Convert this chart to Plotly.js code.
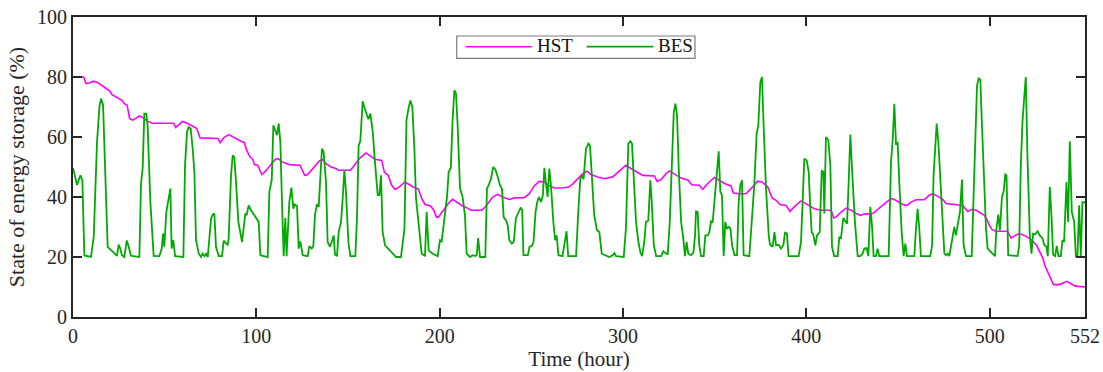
<!DOCTYPE html>
<html>
<head>
<meta charset="utf-8">
<script src="https://cdn.plot.ly/plotly-3.0.1.min.js"></script>
<style>html,body{margin:0;padding:0;background:#fff;}#chart{width:1103px;height:372px;}</style>
</head>
<body>
<div id="chart"></div>
<script>
// HST state of energy (vertices)
const hstHours = [0,5.8,7.1,8.9,11.3,13.5,16.2,18.9,20.2,21.3,23.5,25.3,26.7,28,29.5,30.9,32.6,34.4,36.2,38.6,40.7,43.5,54.9,56,57.7,59.8,62.6,65.3,67.5,69.3,79,80.2,82.6,85,88,91.6,93.5,94.7,96.6,98,99,100.7,103,105,108,110.4,111.9,114,118,123.8,125.3,126.4,128,131.7,134.4,136.2,138,140.7,143.5,144.8,151.3,153.5,156.2,159.8,162.2,164.7,168.4,169.8,172,173.8,175.7,178,181.1,185.3,188.4,190.2,192,195,196.8,198.2,199.3,201.7,204.4,207,209.8,212.5,215.2,217.1,223,225.3,228.9,231.7,234.3,238,240.7,246.2,248.9,251.6,254.3,257.1,259.8,262.5,268,270.3,272.5,275.2,278,280.4,282.5,286.2,289.8,294.4,298,301.6,304.3,308,310.7,317.1,318.6,320.8,323.5,325.3,328,331.7,335.6,337.5,341.6,343.5,346.2,349.8,352.5,355.3,358.9,360.2,363.4,367,369.8,373.4,375.8,378.9,381.3,383.5,385.6,388.9,391.1,393.4,397.1,400.7,404.4,408,413.5,415,416.2,418.9,421.7,424.4,427.1,429.4,431.6,436.2,438.9,442.5,446.2,448.9,452.5,454.9,457.1,459.8,464.4,467.1,468.9,471.6,474.4,476.2,479.8,485.3,488,490.4,492.6,495.3,497.1,498.4,499.8,501.3,503.5,509.8,511.7,514,516.1,518.9,522.5,525.6,527.5,528.9,530.2,531.7,532.9,534.8,538.1,540.3,542.1,544.4,546.8,552];
const hstValues = [80,80,77.8,78,78.6,78.1,77,75.9,75.2,74.1,73.3,72.8,72.2,71.1,70.6,66.1,65.6,66.3,67,66.3,65.2,64.6,64.6,63.2,64.1,65.2,64.5,63.6,62.8,59.7,59.5,58.1,60,60.8,59.7,58.6,58.1,55.6,53.3,52.6,50.8,50.6,47.5,48.6,50.8,52.6,52.8,51.7,50.8,50.6,48.6,47.2,47.5,50,52,52.5,51.1,50,49.5,48.9,48.9,50.6,52.8,54.7,53.7,52.6,52.2,48.3,47.2,43.9,42.5,43.4,45,43.4,42.6,39.5,37.5,37,35.6,33.3,33.3,35.5,37.6,39.2,38.1,37,36.3,35.6,35.6,37,40,40.9,40,39.2,39.7,39.8,41.1,43.7,45.2,45,43.7,43,43.1,43.3,44.3,45.9,47.8,48.6,47.5,46.7,46.1,46.7,48.6,50.6,49.5,48.1,47.2,47,45.2,45.8,47.8,48.7,47.8,46.3,45.6,44.1,43.9,42.6,44.5,46.5,45.6,44.5,43.7,41.3,41.1,41.1,42.8,45.3,45,43.4,39.7,38.9,37.5,37.2,35.2,36.7,38.7,37.5,36.1,35.6,35.6,33,33.3,35,36.3,35.6,34.5,33.9,34.3,34.5,35.8,37.8,39.5,38.9,37.5,37.2,38.3,39.1,39.1,40.6,41.1,40.3,39.2,37.8,37.5,37.2,35.2,35.9,35.6,34.7,33.9,32.6,30.6,29.1,28.6,28.6,26.3,27.2,27.8,27.2,25.9,23.9,21.5,19.7,17,15,13.9,10.8,10.8,11.3,11.9,11.1,10.3,10];

// BES state of energy (vertices)
const besHours = [0,2.2,4,5.1,6.2,9.8,11.3,13.1,14.4,15.3,16.4,17.5,18.9,24,24.9,25.8,26.7,28,29.3,30.4,31.6,36.2,37.1,38,38.9,40,40.7,42.2,44,47.1,48.4,49.1,49.8,50.9,53.1,53.8,54.7,55.7,60.2,61.1,62.2,63.1,64.2,65.3,66.2,67.1,68.6,69.8,70.7,71.7,72.6,73.5,75.3,76.2,77.1,78,79.5,81.3,82.2,83.5,84.4,84.9,86.2,87.1,88,88.9,90.2,92.2,94,94.7,95.8,97.1,98.9,101.3,102.2,106.2,107.1,108.4,109.3,110.4,111.3,112.2,113.1,114,114.9,115.8,116.5,118,119.1,120.2,120.9,122.2,123.1,124,125.3,128,128.9,130.2,131.1,132,133.1,134,134.9,135.8,136.7,138,138.9,140.2,141.1,142.2,142.9,144,144.9,146.2,147.1,148,148.9,150.2,151.3,154,154.9,155.8,156.7,158,158.9,160.2,161.1,162.2,163.5,164.7,166.2,167.1,168,168.9,170.2,176.2,178.9,180.8,181.9,183,184,185.1,186.2,187.1,189,190.2,192,192.9,194,196.2,198.9,200.2,201.1,203,204,204.9,206.1,207,208,208.9,209.8,211.1,212.5,213.8,214.7,216.5,218,219.4,220.2,221,222,224.9,225.8,227.1,228,229.2,230.4,231.7,233,234,234.9,236.2,237.1,238,239.3,240.4,241.6,243.1,244.2,245,245.7,248.1,249,250.3,251.2,252.3,253.2,254.1,255.3,256.3,257.1,258,258.9,259.8,260.7,262,263,263.8,264.8,267,268.3,269.2,270.1,274.4,275.6,276.7,277.6,278.5,279.8,281.1,282,282.9,284.3,285.8,287.1,288.4,290.2,292.5,294.4,295.3,296.2,300.4,301.6,302.9,304,304.9,305.8,307.1,308.4,309.5,310.4,311.6,312.5,313.8,314.9,315.7,316.8,318.1,320.8,322,323.2,324.4,325.5,326.6,327.7,328.6,329.5,330.4,331.7,332.8,333.8,334.7,335.6,337.1,338.4,339.3,339.8,340.7,341.6,342.6,344,344.9,346.2,347.1,348,348.9,349.8,351.1,352.2,353.1,354,354.9,355.8,356.7,357.7,358.6,359.5,360.8,362.2,363.1,364,364.9,365.8,368.9,370.4,371.6,372.9,373.8,374.9,375.8,376.7,378,379.5,380.2,381.6,382.6,383.5,384.9,386.2,387.5,388.4,389.4,390.3,395.8,397.1,398,398.9,400.2,401.3,402,402.9,403.8,404.9,405.8,407.3,408.4,409.3,409.8,410.7,412,413.1,414,415.2,417.1,418,418.9,420.2,421.3,422.2,423.1,424,425.3,426.5,428,429.4,430.7,431.6,432.9,433.8,434.9,435.8,436.7,438,438.9,439.8,444.9,446.2,447.1,448,448.9,449.8,450.7,452,453.1,454,454.9,458.9,459.8,460.7,461.6,462.5,467.6,468.6,469.4,470.4,471.1,472,473.1,474.4,475.3,476.2,477.1,478,479.5,480.7,481.6,482.5,483.8,484.9,485.8,487.1,490.2,491.3,492.2,493.1,494,494.9,495.8,497.1,498,498.9,500.3,501.6,502.9,503.7,504.7,505.6,506.7,507.6,508.5,509.2,510.1,515.2,516.1,517,517.9,518.8,519.7,520.6,521.9,522.8,523.7,524.8,526.1,527.3,528.8,529.7,531,531.7,532.8,533.7,534.6,535.7,536.6,537.5,538.8,539.7,540.6,541.9,542.8,543.7,544.8,546.1,547,547.9,548.8,549.7,550.6,551.5,552];
const besValues = [49.7,44,47.2,45.6,20.5,20,26.7,58.3,70,72.8,70.6,50.6,23.4,20.4,24.1,22.8,20.6,20,25.5,23.4,20.4,20,44.5,49.5,67.8,67.8,63.9,38.3,20.4,20.3,22.8,27.8,23.4,35,42.8,22.8,25.6,20.3,20,50.6,61.7,63.3,62.8,56,48.3,25.6,21.1,20,21.1,20.3,21.1,20,32.8,34.1,34.5,23.4,20.3,20.3,25.5,24.5,24.1,26.1,47.2,53.9,53.3,45,31.7,25,34.5,33.9,37.2,35.6,33.9,31.7,20.6,20,41.7,45.6,63.9,62.2,60.6,64.5,58.3,38.3,20.3,33,20.3,38.3,43.1,36.1,37.5,37,22.8,25.2,20.6,20.3,23.6,22.8,23.7,34.1,37.6,36.7,48.3,56.1,55,45,25,23.4,25,27.2,20.8,20.3,28.3,31.7,39.5,48.9,41.7,25,20.3,20.3,32.8,57.2,58.6,71.9,70,67.8,65.9,67.8,61.7,51.7,40.6,40.6,47.2,28.3,23.9,20,20,29.5,65.6,69.5,72.2,70,56.1,39.5,29.5,21.1,20.3,35,22.2,21.1,20.3,25.6,25.2,34,40,48.3,49.7,65,75.6,74.5,63.9,42.8,40,33.9,21.1,20,20.6,20.3,20.6,26.3,20,20,42.8,44.5,46.1,50,49.2,46.7,43.7,42.8,33.3,32.2,30.6,25.6,24.5,25,33,35,36.5,35.6,20.6,20.6,23.4,23.7,25,35,38.3,40,38.3,40.6,49.7,44.5,40,49.5,43.9,31.7,25.6,27.2,20.6,20.3,26.1,28.6,20.3,20.3,35,46.1,47.2,45.9,56.1,57.8,57.2,47.2,33.9,28.9,28.3,21.1,20.6,20,20.6,21.3,20.3,20,29.5,57.8,58.6,57.8,47.2,31.7,25,21.5,20.3,25,31.7,32.2,45.6,38.3,23.9,20.3,20.3,21.9,21.3,20.8,31.7,53.9,68.3,71.1,67.2,49.5,31.7,26.7,20.3,25,21.1,20.6,21.5,27.2,35.2,35,23.9,20.3,20.3,27.2,27.2,28.3,31.9,31.5,38.3,49.5,55.2,41.7,40.6,20.3,31.7,29.5,30,29.5,23.9,20.6,20.6,38.3,43.9,45.6,20.6,20.3,31.7,43.9,61.1,63.9,78.3,80,63.9,42.8,27.2,24.1,23.4,28.3,23.9,24.1,22.8,24.1,28.3,27.8,20.3,20.3,25,42.8,52.8,52.2,48.3,38.3,28.3,27.5,23.9,27.2,28.3,48.9,48.3,34.5,60,58.9,50.6,23.4,20.3,20.3,26.7,26.3,33,31.9,31.1,45,60.8,45,31.7,20.3,20.3,21.1,22.8,23,20.3,36.7,30.6,20.3,20.3,22.8,20.3,20.3,51.7,58.9,71.1,57.8,58.1,45,28.3,20.3,24.5,20.3,20.3,29.5,36.1,29.5,20.3,20.3,23.9,47.2,59.5,64.5,58.3,47.2,31.7,21.1,20.6,21.1,20.3,25,30,27.2,30.6,35,45.8,23.9,20.3,20.3,41.7,58.3,77.2,79.5,79.1,63.9,42.8,29.5,22.8,21.9,21.1,20.3,29.5,34.1,28.9,40,41.7,47.5,47.2,20.6,20.3,23.9,50.6,65,72.8,80,53.9,27.2,21.1,27.8,27.5,28.6,27.2,26.3,24.1,23.4,20.3,43.3,33.9,20.8,20.3,23.7,20.3,20.3,25.6,25,45,31.7,58.6,35,31.7,20.3,20.3,37.2,20.3,38.3,38.3,38];

const xTicks = [0,100,200,300,400,500,552];
const yTicks = [0,20,40,60,80,100];
const seriesNames = ['HST','BES'];
const seriesColors = ['#ff00ff','#00aa00'];

const fontFam = '"Liberation Serif","Times New Roman",serif';
const axisColor = '#262626';

const traces = [
  {x: hstHours, y: hstValues, name: seriesNames[0], type: 'scatter', mode: 'lines',
   line: {color: seriesColors[0], width: 1.6}, showlegend: false},
  {x: besHours, y: besValues, name: seriesNames[1], type: 'scatter', mode: 'lines',
   line: {color: seriesColors[1], width: 1.8}, showlegend: false}
];

const axisCommon = {
  showgrid: false, zeroline: false, showline: true, mirror: 'ticks',
  linecolor: axisColor, linewidth: 2, ticks: 'inside', ticklen: 9, tickwidth: 2,
  tickcolor: axisColor, tickfont: {family: fontFam, size: 20, color: axisColor}
};

// legend box drawn in paper coordinates (styling only)
const legendShapes = [
  {type: 'rect', xref: 'paper', yref: 'paper', x0: 0.3792, x1: 0.6146, y0: 0.8623, y1: 0.9367,
   line: {color: '#7a7a7a', width: 1.2}, fillcolor: '#ffffff', layer: 'above'},
  {type: 'line', xref: 'paper', yref: 'paper', x0: 0.3883, x1: 0.4533, y0: 0.901, y1: 0.901,
   line: {color: seriesColors[0], width: 1.6}, layer: 'above'},
  {type: 'line', xref: 'paper', yref: 'paper', x0: 0.5076, x1: 0.5734, y0: 0.901, y1: 0.901,
   line: {color: seriesColors[1], width: 1.8}, layer: 'above'}
];
const legendText = [
  {xref: 'paper', yref: 'paper', x: 0.4565, y: 0.905, xanchor: 'left', yanchor: 'middle',
   text: seriesNames[0], showarrow: false, font: {family: fontFam, size: 19, color: '#111'}},
  {xref: 'paper', yref: 'paper', x: 0.5762, y: 0.905, xanchor: 'left', yanchor: 'middle',
   text: seriesNames[1], showarrow: false, font: {family: fontFam, size: 19, color: '#111'}}
];

const layout = {
  width: 1103, height: 372,
  margin: {l: 73, r: 18, t: 17, b: 55},
  paper_bgcolor: '#ffffff', plot_bgcolor: '#ffffff',
  font: {family: fontFam, size: 20, color: axisColor},
  xaxis: Object.assign({}, axisCommon, {
    range: [0, 552], tickvals: xTicks, ticktext: xTicks.map(String),
    title: {text: 'Time (hour)', font: {family: fontFam, size: 21, color: axisColor}, standoff: 3}
  }),
  yaxis: Object.assign({}, axisCommon, {
    range: [0, 100], tickvals: yTicks, ticktext: yTicks.map(String),
    title: {text: 'State of energy storage (%)', font: {family: fontFam, size: 22, color: axisColor}, standoff: 6}
  }),
  showlegend: false,
  shapes: legendShapes,
  annotations: legendText
};

Plotly.newPlot('chart', traces, layout, {displayModeBar: false, staticPlot: true});
</script>
</body>
</html>
